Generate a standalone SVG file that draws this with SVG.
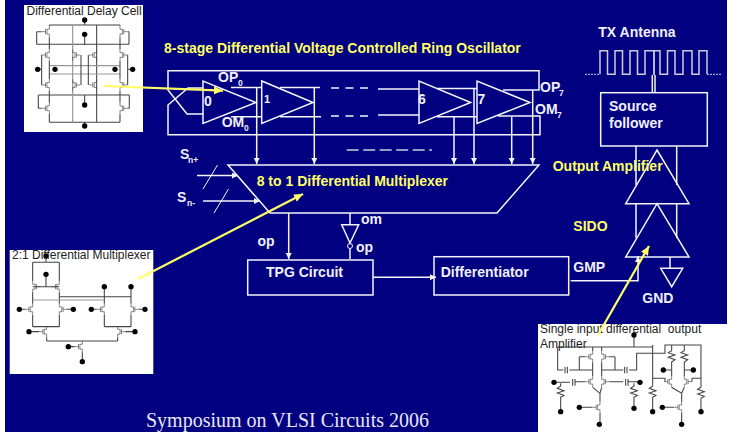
<svg xmlns="http://www.w3.org/2000/svg" width="730" height="432" viewBox="0 0 730 432">
<style>
text{font-family:"Liberation Sans",Arial,sans-serif}
.w{fill:none;stroke:#f4f4fa;stroke-width:1.5}
.g{fill:none;stroke:#ccccdd;stroke-width:1.5}
.t{fill:#f0f0fa;font-weight:bold;font-size:14px}
.y{fill:#ffff66;font-weight:bold;font-size:14px}
.sub{fill:#f0f0fa;font-weight:bold;font-size:8.5px}
.k{fill:#222;font-size:12px;white-space:pre}
.c{fill:none;stroke:#444;stroke-width:3.2}
.cg{fill:none;stroke:#999;stroke-width:3.6}
.d{fill:#000;stroke:none}
.panel{fill:#fff;stroke:none}
.ya{fill:none;stroke:#ffff66;stroke-width:2.2}
</style>
<defs>
<marker id="wa" markerWidth="8" markerHeight="8" refX="6" refY="3" orient="auto" markerUnits="userSpaceOnUse"><path d="M0,0L6,3L0,6Z" fill="#f4f4fa"/></marker>
<marker id="ya" markerWidth="12" markerHeight="10" refX="9" refY="4" orient="auto" markerUnits="userSpaceOnUse"><path d="M0,0L9,4L0,8Z" fill="#ffff66"/></marker>
<path id="mos" d="M0,-28V-12H-12M-12,-13V13M-12,12H0V28M-19,-13V13M-19,0H-38"/>
<circle id="dot" class="d" r="8"/>
</defs>
<rect x="0" y="0" width="730" height="432" fill="#fff"/>
<rect x="5" y="0" width="722" height="432" fill="#000080"/>

<g id="connectors">
<path class="w" d="M203,114H187L168,90V70.7H539V90H503"/>
<path class="w" d="M203,88H188L168,105V134.7H540V116H498"/>
<path class="w" d="M231,87.5H262M231,116.7H262M280,87.5H320M280,116.7H321"/>
<path class="w" stroke-dasharray="8,6.5" d="M331,88H368M331,116H368"/>
<path class="w" d="M378,89H419M378,115H419M437,88.5H477M437,116.7H477"/>
<path class="w" marker-end="url(#wa)" d="M256.7,87.5V164"/>
<path class="w" marker-end="url(#wa)" d="M314.3,87.5V164"/>
<path class="w" marker-end="url(#wa)" d="M454,116.7V164"/>
<path class="w" marker-end="url(#wa)" d="M474,88.5V164"/>
<path class="w" marker-end="url(#wa)" d="M511.7,116.7V164"/>
<path class="w" marker-end="url(#wa)" d="M532.7,90V164"/>
<path class="g" stroke-dasharray="12,4.5" d="M346.7,150H432"/>
<path class="w" marker-end="url(#wa)" d="M197,175.5H238"/>
<path class="w" marker-end="url(#wa)" d="M203,201H260"/>
<path d="M217.5,165L203,189M228.5,189L214,213" fill="none" stroke="#f4f4fa" stroke-width="1"/>
<path class="w" marker-end="url(#wa)" d="M288.7,213V259"/>
<path class="w" d="M350,213V224.7M350,248.5V259"/>
<path class="w" marker-end="url(#wa)" d="M373,277.3H436"/>
<path class="w" marker-end="url(#wa)" d="M570.7,280.7H638V256"/>
<path class="w" d="M636,146V185M676.7,146V185M636,203V238M676.7,203V238M670,257V268M652.3,75V92.7M655,75V92.7M654,50.7V75"/>
<path class="g" d="M600,74.3V50.7H607.5V74.3H615V50.7H622.5V74.3H630V50.7H637.5V74.3H645V50.7H660V74.3H667.5V50.7H675V74.3H683V50.7H692V74.3H699V50.7H707V74.3"/>
<path d="M585,74.3H600M707,74.3H722" fill="none" stroke="#ccd" stroke-width="1" stroke-dasharray="2,1"/>
</g>

<g id="oscillator">
<path class="w" d="M203,81V123.5L256,102.5Z"/>
<path class="w" d="M261.7,81V123.5L313,102.5Z"/>
<path class="w" d="M419,81V123.5L470.7,102.5Z"/>
<path class="w" d="M477,81V123.5L530,102.5Z"/>
<text class="t" x="218" y="82">OP</text><text class="sub" x="238" y="86">0</text>
<text class="t" x="204" y="106">0</text>
<text class="t" x="221.7" y="127">OM</text><text class="sub" x="244" y="131">0</text>
<text class="t" x="264" y="103" style="font-size:11px">1</text>
<text class="t" x="418" y="104">6</text>
<text class="t" x="477.5" y="104">7</text>
<text class="t" x="540" y="92">OP</text><text class="sub" x="559" y="96">7</text>
<text class="t" x="535" y="114">OM</text><text class="sub" x="557" y="118">7</text>
<text class="y" x="164" y="53">8-stage Differential Voltage Controlled Ring Oscillator</text>
</g>

<g id="multiplexer">
<path class="w" d="M228,165H539L497,213H270Z"/>
<text class="y" x="256.7" y="186">8 to 1 Differential Multiplexer</text>
<text class="t" x="180" y="159">S</text><text class="sub" x="188" y="163">n+</text>
<text class="t" x="177" y="202">S</text><text class="sub" x="187" y="206">n-</text>
<text class="t" x="257.5" y="246">op</text>
</g>

<g id="inverter">
<path class="w" d="M341.7,224.7H358.7L350,243Z"/>
<circle cx="350" cy="246" r="2.5" fill="none" stroke="#f4f4fa" stroke-width="1"/>
<text class="t" x="361" y="224">om</text>
<text class="t" x="356" y="252">op</text>
</g>

<g id="tpg">
<rect class="w" x="247.7" y="260" width="125.3" height="35"/>
<text class="t" x="266" y="277">TPG Circuit</text>
</g>

<g id="differentiator">
<rect class="w" x="434" y="256.7" width="134.7" height="38.3"/>
<text class="t" x="440.7" y="277">Differentiator</text>
<text class="t" x="573.3" y="272">GMP</text>
</g>

<g id="output">
<path class="w" d="M657,150L689,203.7H625.7Z"/>
<path class="w" d="M657,203.7L689,257H625.7Z"/>
<path class="w" d="M660.7,268.3H682.7L671.7,286.7Z"/>
<text class="t" x="642.3" y="303">GND</text>
<text class="y" x="552.7" y="171">Output Amplifier</text>
<text class="y" x="573.3" y="231">SIDO</text>
</g>

<g id="source">
<rect class="w" x="600.7" y="92.7" width="106.6" height="53.3"/>
<text class="t" x="609" y="111">Source</text>
<text class="t" x="609" y="128">follower</text>
<text class="t" x="598.3" y="37">TX Antenna</text>
</g>

<g id="delay-cell">
<rect class="panel" x="24" y="5" width="119" height="127"/>
<g transform="scale(.3333)">
<path class="c" d="M148,75H360M290,75V367M254,60V75M254,103V135M110,133H387M148,367H360M115,285H388M254,285V315M254,367V378"/>
<path class="cg" d="M218,75V367M148,197H360M148,222H360"/>
<path class="c" d="M110,95V133M387,95V133M115,285V325M388,285V325M110,95H125M383,95H387M115,325H125M383,325H388"/>
<path class="c" d="M148,75V78M360,75V78M148,112V148M360,112V148M148,182V238M360,182V238M148,272V308M360,272V308M148,342V367M360,342V367"/>
<path class="c" d="M125,165V255M243,165V255M265,165V255M383,165V255"/>
<path class="c" d="M118,208H125M383,208H398"/>
<g transform="translate(148,95) scale(.6)"><use href="#mos" class="c"/></g>
<g transform="translate(360,95) scale(-.6,.6)"><use href="#mos" class="c"/></g>
<g transform="translate(148,165) scale(.6)"><use href="#mos" class="c"/></g>
<g transform="translate(218,165) scale(-.6,.6)"><use href="#mos" class="c"/></g>
<g transform="translate(290,165) scale(.6)"><use href="#mos" class="c"/></g>
<g transform="translate(360,165) scale(-.6,.6)"><use href="#mos" class="c"/></g>
<g transform="translate(148,255) scale(.6)"><use href="#mos" class="c"/></g>
<g transform="translate(218,255) scale(-.6,.6)"><use href="#mos" class="c"/></g>
<g transform="translate(290,255) scale(.6)"><use href="#mos" class="c"/></g>
<g transform="translate(360,255) scale(-.6,.6)"><use href="#mos" class="c"/></g>
<g transform="translate(148,325) scale(.6)"><use href="#mos" class="c"/></g>
<g transform="translate(360,325) scale(-.6,.6)"><use href="#mos" class="c"/></g>
<use href="#dot" x="254" y="60"/><use href="#dot" x="254" y="103"/><use href="#dot" x="254" y="315"/><use href="#dot" x="254" y="378"/>
<use href="#dot" x="113" y="208"/><use href="#dot" x="165" y="208"/><use href="#dot" x="345" y="208"/><use href="#dot" x="398" y="208"/>
</g>
<text class="k" x="26.5" y="15">Differential Delay Cell</text>
</g>

<g id="mux-cell">
<rect class="panel" x="9.7" y="250" width="143.6" height="124"/>
<g transform="translate(0,230) scale(.3333)">
<path class="c" d="M138,78V97M98,97H178M98,97V153M178,97V153M138,133V170M98,170H178M98,187V221M178,187V221M98,255V290M178,255V290M98,290H178M313,170V221M393,170V221M313,255V290M393,255V290M313,290H393"/>
<path class="cg" d="M98,210H313"/>
<path class="c" d="M178,200H393M140,322V333M353,322V333M140,333H353M247,367V395"/>
<g transform="translate(98,170) scale(-.6,.6)"><use href="#mos" class="c"/></g>
<g transform="translate(178,170) scale(.6)"><use href="#mos" class="c"/></g>
<g transform="translate(98,238) scale(.6)"><use href="#mos" class="c"/></g>
<g transform="translate(178,238) scale(-.6,.6)"><use href="#mos" class="c"/></g>
<g transform="translate(313,238) scale(.6)"><use href="#mos" class="c"/></g>
<g transform="translate(393,238) scale(-.6,.6)"><use href="#mos" class="c"/></g>
<g transform="translate(140,305) scale(.6)"><use href="#mos" class="c"/></g>
<g transform="translate(353,305) scale(-.6,.6)"><use href="#mos" class="c"/></g>
<g transform="translate(247,350) scale(.6)"><use href="#mos" class="c"/></g>
<path class="c" d="M58,238H75M201,238H220M272,238H290M416,238H435M87,305H117M376,305H405M205,350H224"/>
<use href="#dot" x="138" y="78"/><use href="#dot" x="138" y="133"/><use href="#dot" x="313" y="170"/><use href="#dot" x="393" y="170"/>
<use href="#dot" x="58" y="238"/><use href="#dot" x="220" y="238"/><use href="#dot" x="274" y="238"/><use href="#dot" x="435" y="238"/>
<use href="#dot" x="87" y="305"/><use href="#dot" x="405" y="305"/><use href="#dot" x="205" y="350"/><use href="#dot" x="247" y="395"/>
</g>
<text class="k" x="12" y="259">2:1 Differential Multiplexer</text>
</g>

<g id="sido-cell">
<rect class="panel" x="538" y="324" width="192" height="108"/>
<g transform="translate(520,300) scale(.3333)">
<path class="c" d="M113,141H398M342,105V141M113,141V210H130M148,210H218M178,170V210M178,170H195M285,170V210H310M245,210H285M268,170H285M327,210H350V160H435V135H543V262M398,135V258M435,245V235H398M218,141V153M245,141V153"/>
<path class="c" d="M135,200V220M142,200V220M314,200V220M321,200V220"/>
<path class="c" d="M218,187V228M245,187V228M218,262L240,280M245,262L240,280M240,280V305M240,339V373"/>
<path class="c" d="M100,247H150M158,237V257M165,237V257M165,245H195M268,245H310M317,237V257M324,237V257M324,245H360"/>
<path class="c" d="M122,250L122,258L112,265L132,272L112,279L132,286L122,292V335M342,250V258L332,265L352,272L332,279L352,286L342,292V325M398,258L388,265L408,272L388,279L408,286L398,292V335M543,262L533,268L553,275L533,282L553,289L543,295V335"/>
<path class="c" d="M455,135V152L445,158L465,165L445,172L465,179L455,186V228M493,135V152L483,158L503,165L483,172L503,179L493,186V228M432,210H455M493,210H520M515,235H543M455,262L485,280L493,262M485,280V305M485,339V373"/>
<g transform="translate(218,170) scale(.6)"><use href="#mos" class="c"/></g>
<g transform="translate(245,170) scale(-.6,.6)"><use href="#mos" class="c"/></g>
<g transform="translate(218,245) scale(.6)"><use href="#mos" class="c"/></g>
<g transform="translate(245,245) scale(-.6,.6)"><use href="#mos" class="c"/></g>
<g transform="translate(240,322) scale(.6)"><use href="#mos" class="c"/></g>
<g transform="translate(455,245) scale(.6)"><use href="#mos" class="c"/></g>
<g transform="translate(493,245) scale(-.6,.6)"><use href="#mos" class="c"/></g>
<g transform="translate(485,322) scale(.6)"><use href="#mos" class="c"/></g>
<path class="c" d="M180,322H217M427,322H462M516,235V245"/>
<use href="#dot" x="342" y="105"/>
<use href="#dot" x="102" y="247"/><use href="#dot" x="122" y="335"/><use href="#dot" x="178" y="322"/><use href="#dot" x="238" y="373"/><use href="#dot" x="342" y="325"/><use href="#dot" x="360" y="247"/><use href="#dot" x="398" y="335"/><use href="#dot" x="430" y="210"/><use href="#dot" x="520" y="210"/><use href="#dot" x="427" y="322"/><use href="#dot" x="485" y="373"/><use href="#dot" x="543" y="335"/>
</g>
<text class="k" x="540" y="333">Single input differential  output</text>
<text class="k" x="540" y="348">Amplifier</text>
</g>

<g id="callouts">
<path class="ya" marker-end="url(#ya)" d="M104,86L223,90.7"/>
<path class="ya" marker-end="url(#ya)" d="M138,279L303,194"/>
<path class="ya" marker-end="url(#ya)" d="M598,335L649,246"/>
</g>

<text x="146" y="427" font-size="20" fill="#e8e8f4" style="font-family:'Liberation Serif',serif">Symposium on VLSI Circuits 2006</text>
</svg>
